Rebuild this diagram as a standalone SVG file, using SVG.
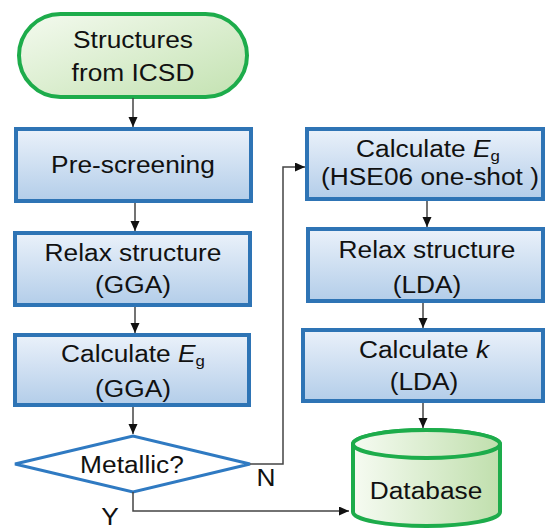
<svg xmlns="http://www.w3.org/2000/svg" width="546" height="530" viewBox="0 0 546 530">
<defs>
<linearGradient id="gBlue" x1="0" y1="0" x2="0" y2="1">
<stop offset="0" stop-color="#eaf1fa"/>
<stop offset="1" stop-color="#b3cde9"/>
</linearGradient>
<linearGradient id="gGreen" x1="0" y1="0" x2="1" y2="1">
<stop offset="0" stop-color="#f4faef"/>
<stop offset="1" stop-color="#c3e2b1"/>
</linearGradient>
<linearGradient id="gCyl" x1="0" y1="0" x2="1" y2="0">
<stop offset="0" stop-color="#f6fbf2"/>
<stop offset="1" stop-color="#c0dfad"/>
</linearGradient>
<marker id="arr" markerUnits="userSpaceOnUse" markerWidth="11" markerHeight="10" refX="10" refY="4.5" orient="auto">
<path d="M0,0 L10,4.5 L0,9 z" fill="#111"/>
</marker>
<style>
.box{fill:url(#gBlue);stroke:#2e74b5;stroke-width:4}
.term{fill:url(#gGreen);stroke:#1dac4b;stroke-width:4}
.cyl{fill:url(#gCyl);stroke:#1dac4b;stroke-width:4}
.dia{fill:#fff;stroke:#2f7ac2;stroke-width:3}
.con{fill:none;stroke:#444;stroke-width:1.5;marker-end:url(#arr)}
.ln{fill:none;stroke:#444;stroke-width:1.5}
text{font-family:"Liberation Sans",Arial,sans-serif;font-size:23.5px;fill:#111;text-anchor:middle}
.sub{font-size:15px}
</style>
</defs>
<g id="start">
<rect class="term" x="19" y="14" width="228" height="83" rx="41.5"/>
<text transform="translate(133,48) scale(1.12,1)">Structures</text>
<text transform="translate(133,81) scale(1.12,1)">from ICSD</text>
</g>
<g id="prescreening">
<rect class="box" x="16" y="129" width="235" height="72"/>
<text transform="translate(133,173) scale(1.12,1)">Pre-screening</text>
</g>
<g id="relaxGGA">
<rect class="box" x="15" y="233" width="235" height="72"/>
<text transform="translate(133,261) scale(1.12,1)">Relax structure</text>
<text transform="translate(133,293) scale(1.12,1)">(GGA)</text>
</g>
<g id="egGGA">
<rect class="box" x="15" y="335" width="234" height="70"/>
<text transform="translate(133,362) scale(1.12,1)">Calculate <tspan font-style="italic">E</tspan><tspan class="sub" dy="4">g</tspan></text>
<text transform="translate(133,397) scale(1.12,1)">(GGA)</text>
</g>
<g id="metallic">
<polygon class="dia" points="15,464 133,436 250,464 133,492"/>
<text transform="translate(132,473) scale(1.12,1)">Metallic?</text>
</g>
<g id="egHSE">
<rect class="box" x="307" y="129" width="236" height="70"/>
<text transform="translate(428,157) scale(1.12,1)">Calculate <tspan font-style="italic">E</tspan><tspan class="sub" dy="4">g</tspan></text>
<text transform="translate(430,185) scale(1.12,1)">(HSE06 one-shot )</text>
</g>
<g id="relaxLDA">
<rect class="box" x="308" y="229" width="235" height="72"/>
<text transform="translate(427,258) scale(1.12,1)">Relax structure</text>
<text transform="translate(427,293) scale(1.12,1)">(LDA)</text>
</g>
<g id="kLDA">
<rect class="box" x="303" y="330" width="240" height="71"/>
<text transform="translate(424,358) scale(1.12,1)">Calculate <tspan font-style="italic">k</tspan></text>
<text transform="translate(424,390) scale(1.12,1)">(LDA)</text>
</g>
<g id="database">
<path class="cyl" d="M353,444 A73.5,14 0 0 1 500,444 V512 A73.5,14 0 0 1 353,512 Z"/>
<ellipse class="cyl" cx="426.5" cy="444" rx="73.5" ry="14"/>
<text transform="translate(426,499) scale(1.12,1)">Database</text>
</g>
<g id="connectors">
<line class="con" x1="133" y1="98" x2="133" y2="127"/>
<line class="con" x1="135" y1="203" x2="135" y2="231"/>
<line class="con" x1="135" y1="307" x2="135" y2="333"/>
<line class="con" x1="133" y1="407" x2="133" y2="434"/>
<polyline class="con" points="250,464 283,464 283,167 305,167"/>
<polyline class="con" points="133,492 133,511 349,511"/>
<line class="con" x1="427" y1="201" x2="427" y2="227"/>
<line class="con" x1="423" y1="303" x2="423" y2="328"/>
<line class="con" x1="423" y1="403" x2="423" y2="428"/>
<text transform="translate(266,486) scale(1.12,1)">N</text>
<text transform="translate(110,525) scale(1.12,1)">Y</text>
</g>
</svg>
